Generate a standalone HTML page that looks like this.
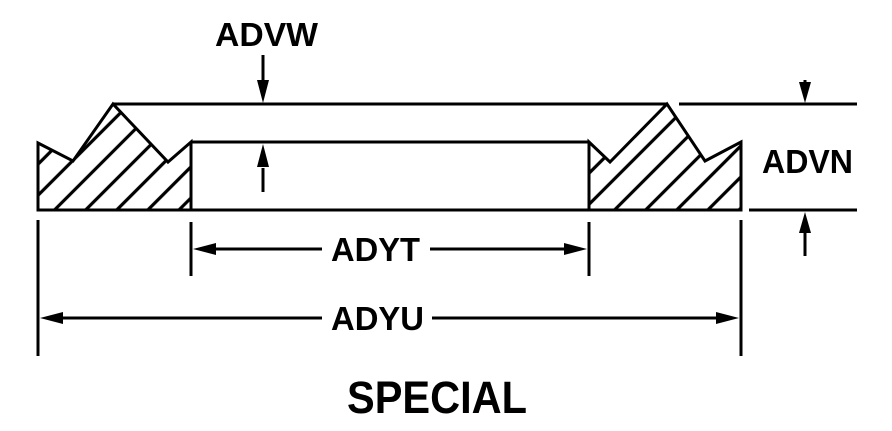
<!DOCTYPE html>
<html><head><meta charset="utf-8"><style>
html,body{margin:0;padding:0;background:#fff;}
svg{display:block}
text{font-family:"Liberation Sans",Arial,sans-serif;font-weight:bold;fill:#000}
</style></head><body>
<svg width="892" height="431" viewBox="0 0 892 431" xmlns="http://www.w3.org/2000/svg">
<defs>
<pattern id="h" patternUnits="userSpaceOnUse" width="22" height="22" patternTransform="rotate(45)">
<line x1="11" y1="-2" x2="11" y2="24" stroke="#000" stroke-width="3.2"/>
</pattern>
</defs>
<g stroke="#000" stroke-width="3" fill="url(#h)" stroke-linejoin="miter">
<path d="M38,143 L73,161 L113,104 L168,162 L191,142 L191,210 L38,210 Z"/>
<path d="M589,142 L610,162 L667,104 L705,161 L741,142 L741,210 L589,210 Z"/>
</g>
<g stroke="#000" stroke-width="3" fill="none">
<line x1="113" y1="104" x2="667" y2="104"/>
<line x1="191" y1="142" x2="589" y2="142"/>
<line x1="191" y1="210" x2="589" y2="210"/>
<line x1="679" y1="104" x2="857" y2="104"/>
<line x1="749" y1="210" x2="857" y2="210"/>
<line x1="191" y1="222" x2="191" y2="276"/>
<line x1="589" y1="222" x2="589" y2="276"/>
<line x1="38" y1="220" x2="38" y2="356"/>
<line x1="741" y1="220" x2="741" y2="356"/>
</g>
<g stroke="#000" stroke-width="3" fill="#000">
<line x1="263" y1="55" x2="263" y2="80"/>
<path d="M257,80 L269,80 L263,103 Z" stroke="none"/>
<line x1="263" y1="168" x2="263" y2="192"/>
<path d="M257,167 L269,167 L263,144 Z" stroke="none"/>
<line x1="805" y1="80" x2="805" y2="84"/>
<path d="M799,82 L811,82 L805,103 Z" stroke="none"/>
<line x1="805" y1="232" x2="805" y2="256"/>
<path d="M799,233 L811,233 L805,212 Z" stroke="none"/>
<line x1="215" y1="249" x2="322" y2="249"/>
<line x1="430" y1="249" x2="565" y2="249"/>
<path d="M193,249 L216,243 L216,255 Z" stroke="none"/>
<path d="M587,249 L564,243 L564,255 Z" stroke="none"/>
<line x1="62" y1="318" x2="322" y2="318"/>
<line x1="432" y1="318" x2="717" y2="318"/>
<path d="M40,318 L63,312 L63,324 Z" stroke="none"/>
<path d="M739,318 L716,312 L716,324 Z" stroke="none"/>
</g>
<text x="215" y="46" font-size="33" textLength="103" lengthAdjust="spacingAndGlyphs">ADVW</text>
<text x="762" y="173" font-size="33" textLength="91" lengthAdjust="spacingAndGlyphs">ADVN</text>
<text x="331" y="261" font-size="33" textLength="89" lengthAdjust="spacingAndGlyphs">ADYT</text>
<text x="331" y="330" font-size="33" textLength="93" lengthAdjust="spacingAndGlyphs">ADYU</text>
<text x="347" y="413" font-size="45" textLength="180" lengthAdjust="spacingAndGlyphs">SPECIAL</text>
</svg>
</body></html>
